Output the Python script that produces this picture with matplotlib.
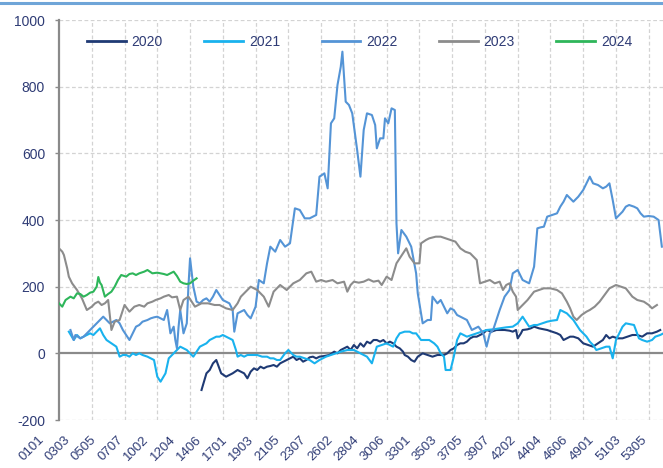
import matplotlib
matplotlib.use("Agg")
import matplotlib.pyplot as plt
from matplotlib.lines import Line2D
from matplotlib.transforms import ScaledTranslation

plt.rcParams['font.family'] = ['Liberation Sans', 'DejaVu Sans']

# ---- data (x = day index within year, 7 days per week) ----
x_labels = ["0101", "0303", "0505", "0707", "1002", "1204", "1406", "1701", "1903", "2105",
            "2307", "2602", "2804", "3006", "3301", "3503", "3705", "3907", "4202", "4404",
            "4606", "4901", "5103", "5305"]

x2020 = [87, 90, 92, 94, 96, 99, 102, 104, 106, 109,
         111, 113, 115, 117, 119, 121, 123, 125, 127, 129,
         131, 133, 135, 137, 139, 141, 143, 145, 147, 149,
         151, 153, 155, 157, 159, 162, 165, 168, 170, 172,
         174, 176, 178, 180, 182, 184, 186, 188, 190, 192,
         194, 196, 198, 200, 202, 204, 206, 208, 210, 211,
         213, 215, 217, 219, 222, 225, 228, 231, 233, 235,
         237, 239, 241, 243, 245, 247, 249, 251, 253, 255,
         257, 259, 261, 264, 267, 269, 272, 275, 277, 279,
         280, 282, 283, 286, 288, 290, 293, 296, 298, 301,
         304, 306, 308, 310, 312, 314, 317, 320, 323, 326,
         329, 332, 334, 336, 338, 341, 344, 347, 350, 353,
         356, 359, 362, 365, 367]
y2020 = [-110, -60, -50, -30, -20, -60, -70, -65, -60, -50,
         -55, -60, -75, -55, -45, -50, -40, -45, -40, -38,
         -35, -40, -30, -25, -20, -15, -10, -20, -15, -25,
         -20, -12, -10, -15, -10, -8, -5, 5, 0, 10,
         15, 20, 10, 25, 15, 30, 20, 35, 30, 40,
         40, 35, 40, 30, 35, 30, 20, 15, 5, -5,
         -10, -20, -25, -10, 0, -5, -10, -5, -5, -5,
         0, 10, 15, 25, 30, 30, 35, 45, 50, 50,
         55, 60, 70, 65, 70, 70, 70, 68, 65, 70,
         45, 60, 70, 72, 75, 80, 75, 72, 70, 65,
         60, 55, 40, 45, 50, 50, 45, 30, 25, 20,
         30, 40, 55, 45, 50, 45, 45, 50, 55, 55,
         50, 60, 60, 65, 70]

x2021 = [6, 9, 11, 13, 15, 17, 19, 21, 23, 25,
         27, 29, 32, 35, 37, 39, 41, 43, 45, 47,
         49, 51, 54, 56, 58, 60, 62, 65, 67, 70,
         72, 74, 76, 78, 80, 82, 84, 86, 88, 90,
         92, 94, 96, 98, 100, 102, 104, 106, 108, 109,
         111, 113, 115, 118, 121, 124, 127, 129, 131, 133,
         135, 138, 140, 143, 145, 147, 150, 153, 156, 159,
         163, 166, 169, 172, 176, 180, 182, 184, 186, 188,
         191, 194, 197, 200, 202, 204, 206, 208, 211, 214,
         216, 218, 221, 224, 226, 229, 231, 233, 235, 236,
         238, 239, 241, 243, 245, 247, 249, 252, 255, 258,
         261, 265, 269, 273, 277, 280, 283, 285, 287, 290,
         292, 295, 298, 301, 304, 306, 308, 310, 312, 314,
         316, 318, 320, 322, 324, 326, 328, 331, 334, 336,
         338, 340, 342, 344, 346, 348, 351, 354, 356, 359,
         362, 364, 367, 369]
y2021 = [65, 40, 55, 45, 50, 55, 60, 55, 65, 75,
         55, 40, 30, 20, -10, -5, -5, -10, 0, -5,
         0, -5, -10, -15, -20, -70, -85, -60, -15, 0,
         10, 20, 15, 10, 0, -10, 5, 20, 25, 30,
         40, 45, 50, 50, 55, 50, 45, 40, 10, -10,
         -5, -10, -5, -5, -5, -10, -10, -15, -15, -20,
         -20, 0, 10, -5, -10, -10, -15, -20, -30, -20,
         -10, -5, 0, 5, 10, 10, 5, 0, -5, -10,
         -30, 20, 25, 30, 25, 20, 45, 60, 65, 65,
         60, 60, 40, 40, 40, 30, 20, 0, -10, -50,
         -50, -50, -10, 40, 60, 55, 50, 55, 60, 65,
         70, 72, 75, 78, 80, 90, 110, 95, 80, 85,
         85, 90, 95, 98, 100, 130, 125, 120, 110, 100,
         85, 70, 60, 50, 35, 25, 10, 15, 20, 20,
         -15, 40, 60, 80, 90, 88, 85, 45, 40, 35,
         40, 50, 55, 60]

x2022 = [7, 9, 10, 13, 15, 17, 19, 21, 23, 25,
         27, 29, 31, 33, 35, 37, 39, 41, 43, 45,
         47, 49, 51, 54, 56, 58, 60, 62, 64, 66,
         67, 68, 70, 71, 72, 73, 74, 76, 78, 79,
         80, 82, 84, 86, 88, 90, 92, 94, 96, 98,
         100, 102, 104, 106, 107, 109, 111, 113, 115, 117,
         120, 122, 125, 127, 129, 132, 135, 138, 141, 144,
         147, 150, 153, 155, 157, 159, 162, 164, 166, 168,
         170, 172, 173, 175, 177, 179, 182, 184, 186, 188,
         191, 193, 194, 196, 198, 199, 201, 203, 205, 206,
         207, 209, 212, 215, 218, 219, 222, 225, 227, 228,
         231, 233, 235, 237, 239, 241, 243, 245, 247, 249,
         252, 254, 256, 259, 261, 263, 265, 267, 269, 272,
         275, 277, 280, 283, 285, 287, 290, 292, 294, 296,
         298, 301, 304, 306, 308, 310, 312, 314, 317, 320,
         322, 324, 326, 329, 332, 334, 336, 338, 340, 342,
         344, 346, 348, 351, 353, 355, 357, 360, 363, 366,
         368]
y2022 = [70, 40, 55, 45, 50, 60, 70, 80, 90, 100,
         110, 100, 90, 95, 100, 90, 70, 55, 40, 60,
         80, 85, 95, 100, 105, 108, 110, 105, 100, 130,
         95, 60, 80, 40, 15, 80, 130, 60, 90, 200,
         285, 200, 155, 150, 160, 165, 155, 170, 190, 175,
         160, 155, 150, 130, 65, 120, 125, 130, 115, 105,
         140, 220, 210, 270, 320, 305, 340, 320, 330, 435,
         430, 405, 405, 410, 415, 530, 540, 495, 690, 705,
         805, 860, 905, 755, 745, 720, 610, 530, 670, 720,
         715, 685, 615, 645, 645, 705, 690, 735, 730, 390,
         300, 370, 350, 320, 240, 180, 90, 100, 100, 170,
         150, 160, 140, 120, 135, 130, 115, 110, 105, 100,
         70, 75, 80, 60, 20, 60, 70, 100, 130, 170,
         190, 240, 250, 220, 215, 210, 260, 375, 378, 380,
         410, 415, 420, 440, 455, 475, 465, 455, 470, 490,
         510, 530, 510, 505, 495, 500, 510, 460, 405, 415,
         425, 440, 445, 440, 435, 420, 410, 412, 410, 400,
         320]

x2023 = [0, 2, 3, 5, 6, 8, 11, 14, 17, 20,
         22, 24, 26, 28, 30, 32, 34, 37, 40, 43,
         46, 49, 52, 54, 57, 59, 62, 64, 67, 69,
         72, 74, 76, 79, 81, 83, 87, 91, 95, 98,
         102, 106, 109, 111, 114, 117, 121, 125, 128, 131,
         135, 139, 143, 147, 151, 154, 157, 160, 163, 167,
         170, 174, 176, 178, 180, 183, 186, 189, 192, 195,
         197, 200, 203, 206, 208, 210, 212, 214, 217, 220,
         221, 224, 226, 230, 233, 236, 239, 242, 245, 248,
         251, 253, 255, 257, 260, 263, 266, 269, 271, 273,
         275, 277, 279, 280, 283, 286, 290, 293, 296, 300,
         304, 307, 310, 312, 314, 316, 319, 322, 324, 327,
         330, 333, 336, 340, 343, 346, 350, 353, 357, 360,
         362, 365]
y2023 = [315, 305, 295, 255, 230, 210, 190, 165, 130, 140,
         150, 155, 145, 150, 160, 70, 95, 100, 145, 125,
         140, 145, 140, 150, 155, 160, 165, 170, 175, 168,
         170, 130, 160, 170, 155, 140, 150, 150, 145, 145,
         135, 130, 150, 170, 185, 200, 190, 170, 140, 185,
         205, 190, 210, 220, 240, 245, 215, 220, 215, 220,
         210, 215, 185, 205, 215, 212, 215, 222, 215, 218,
         205, 230, 220, 270, 285, 300, 315, 290, 270, 270,
         330, 340, 345, 350, 350, 345, 340, 335, 315, 305,
         300, 290, 280, 210, 215, 220, 210, 215, 190, 205,
         210, 185, 170, 130, 145, 160, 185, 190, 195, 195,
         190, 180, 155, 135, 110, 100, 115, 125, 130, 140,
         155, 175, 195, 205, 200, 195, 170, 160, 155, 145,
         135, 145]

x2024 = [0, 2, 4, 7, 9, 11, 13, 15, 17, 19,
         21, 23, 24, 25, 26, 28, 30, 32, 34, 36,
         38, 41, 43, 45, 47, 49, 52, 54, 57, 60,
         62, 64, 66, 68, 70, 72, 74, 76, 78, 80,
         82, 84]
y2024 = [150, 140, 160, 170, 165, 180, 178, 170, 175, 182,
         185, 200, 229, 212, 205, 170, 178, 185, 200, 220,
         235, 230, 238, 240, 235, 240, 245, 250, 240, 242,
         240, 238, 235, 240, 245, 232, 215, 210, 208, 210,
         218, 225]

series = [("2020", x2020, y2020, "#1F3A74"),
          ("2021", x2021, y2021, "#19B2EE"),
          ("2022", x2022, y2022, "#5494D6"),
          ("2023", x2023, y2023, "#8C8C8C"),
          ("2024", x2024, y2024, "#2EB65A")]

for name, xs, ys, c in series:
    assert len(xs) == len(ys), (name, len(xs), len(ys))

W, H = 663, 468
fig = plt.figure(figsize=(W / 100, H / 100), dpi=100)
ax = fig.add_axes([59 / W, 48 / H, 604 / W, 400 / H])

ax.set_xlim(0, 368.7)
ax.set_ylim(-200, 1000)

# grid
for v in range(-200, 1001, 200):
    if v != 0:
        ax.axhline(v, color="#D3D3D3", lw=0.9, ls=(0, (3, 2)), zorder=0)
for gx in range(20, 369, 20):
    ax.axvline(gx, color="#D3D3D3", lw=0.9, ls=(0, (3, 2)), zorder=0)
ax.axhline(0, color="#8A8A8A", lw=1.6, zorder=1)

for name, xs, ys, c in series:
    ax.plot(xs, ys, color=c, lw=1.5, label=name, zorder=3)

for s in ["top", "right", "bottom"]:
    ax.spines[s].set_visible(False)
ax.spines["left"].set_color("#8A8A8A")
ax.spines["left"].set_linewidth(1.6)

lab_color = "#2E3B75"
ax.set_yticks(range(-200, 1001, 200))
ax.set_yticklabels([str(v) for v in range(-200, 1001, 200)])
ax.tick_params(axis="y", length=3, width=1, color="#8A8A8A", pad=7,
               labelsize=10, labelcolor=lab_color)

ax.set_xticks(list(range(0, 369, 16)))
ax.set_xticklabels(x_labels, rotation=45, ha="right", va="top",
                   rotation_mode="anchor")
ax.tick_params(axis="x", length=0, pad=0, labelsize=9.5, labelcolor=lab_color)
off = ScaledTranslation(-21 / 100, -14 / 100, fig.dpi_scale_trans)
for lbl in ax.get_xticklabels():
    lbl.set_transform(lbl.get_transform() + off)

leg = ax.legend(ncol=5, loc="center left", bbox_to_anchor=((87 - 59) / 604, (420 - 42) / 400),
                frameon=False, fontsize=10, handlelength=2.8, handletextpad=0.4,
                columnspacing=3.0, borderaxespad=0, borderpad=0)
for t in leg.get_texts():
    t.set_color(lab_color)
for h in leg.get_lines():
    h.set_linewidth(2.0)

# top border line
fig.add_artist(Line2D([0, 1], [1 - 2.5 / H, 1 - 2.5 / H], transform=fig.transFigure,
                      color="#6FA5D8", lw=2.2))

fig.savefig("out.png", dpi=100, facecolor="white")
